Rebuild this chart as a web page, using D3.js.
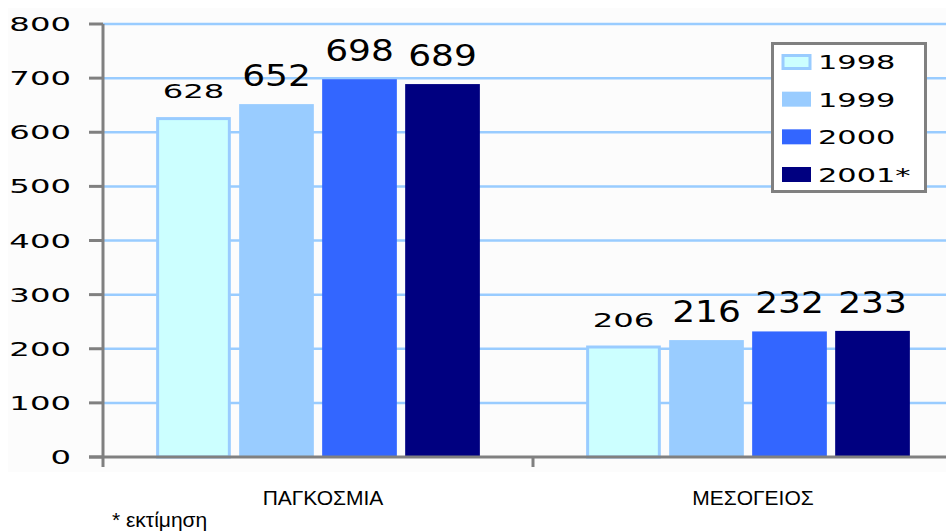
<!DOCTYPE html>
<html lang="el">
<head>
<meta charset="UTF-8">
<title>Chart</title>
<style>
    body { margin: 0; background: #ffffff; }
    svg { display: block; }
</style>
</head>
<body>
<div id="chart"></div>
<script src="https://d3js.org/d3.v7.min.js"></script>
<script>
// data
const categories = ['ΠΑΓΚΟΣΜΙΑ', 'ΜΕΣΟΓΕΙΟΣ'];
const years = ['1998', '1999', '2000', '2001*'];
const v1998 = [628, 206];
const v1999 = [652, 216];
const v2000 = [698, 232];
const v2001 = [689, 233];
const yTicks = [0, 100, 200, 300, 400, 500, 600, 700, 800];
const footnote = '* εκτίμηση';

const seriesValues = [v1998, v1999, v2000, v2001];
const colors = ['#ccffff', '#99ccff', '#3366ff', '#000080'];

const width = 946, height = 532;
const plot = { left: 103, right: 963, top: 24, bottom: 457 };

const svg = d3.select('#chart').append('svg')
    .attr('width', width)
    .attr('height', height);

// faint plot backdrop
svg.append('rect')
    .attr('x', 8).attr('y', 8)
    .attr('width', width - 8).attr('height', 464)
    .attr('fill', '#fcfcfc');

const y = d3.scaleLinear().domain([0, 800]).range([plot.bottom, plot.top]);
const x0 = d3.scaleBand().domain(categories).range([plot.left, plot.right]);
const x1 = d3.scaleBand().domain(years).range([0, x0.bandwidth()])
    .paddingInner(0.1).paddingOuter(0.64);

// stretched pixel-like digits
function wideText(parent, x, yy, txt, size, sx, anchor) {
    parent.append('g')
        .attr('transform', `translate(${x},${yy}) scale(${sx},1)`)
        .append('text')
        .attr('text-anchor', anchor)
        .attr('font-family', 'DejaVu Sans')
        .attr('font-size', size)
        .attr('fill', '#000')
        .text(txt);
}

// gridlines
svg.append('g').selectAll('line')
    .data(yTicks.filter(d => d > 0))
    .join('line')
    .attr('x1', plot.left).attr('x2', width)
    .attr('y1', d => y(d)).attr('y2', d => y(d))
    .attr('stroke', '#99ccff')
    .attr('stroke-width', 2.5);

// bars
const groups = svg.append('g').selectAll('g')
    .data(categories)
    .join('g')
    .attr('transform', d => `translate(${x0(d)},0)`);

groups.each(function(cat, ci) {
    const g = d3.select(this);
    years.forEach((yr, si) => {
        const val = seriesValues[si][ci];
        const bx = x1(yr), bw = x1.bandwidth();
        if (si === 0) {
            g.append('rect')
                .attr('x', bx + 1.5).attr('y', y(val) + 1.5)
                .attr('width', bw - 3).attr('height', y(0) - y(val) - 1.5)
                .attr('fill', colors[si])
                .attr('stroke', '#99ccff')
                .attr('stroke-width', 3);
        } else {
            g.append('rect')
                .attr('x', bx).attr('y', y(val))
                .attr('width', bw).attr('height', y(0) - y(val))
                .attr('fill', colors[si]);
        }
        const small = si === 0;
        wideText(g, bx + bw / 2, y(val) - (small ? 19 : 18), val,
            small ? 19 : 30, small ? 1.7 : 1.2, 'middle');
    });
});

// axes
const axisColor = '#808080';
svg.append('line')
    .attr('x1', plot.left).attr('x2', plot.left)
    .attr('y1', plot.top).attr('y2', plot.bottom + 10)
    .attr('stroke', axisColor).attr('stroke-width', 3);
svg.append('line')
    .attr('x1', 89).attr('x2', width)
    .attr('y1', plot.bottom).attr('y2', plot.bottom)
    .attr('stroke', axisColor).attr('stroke-width', 3);
svg.append('g').selectAll('line')
    .data(yTicks)
    .join('line')
    .attr('x1', 89).attr('x2', plot.left)
    .attr('y1', d => y(d)).attr('y2', d => y(d))
    .attr('stroke', axisColor).attr('stroke-width', 3);
svg.append('line')
    .attr('x1', x0(categories[1])).attr('x2', x0(categories[1]))
    .attr('y1', plot.bottom).attr('y2', plot.bottom + 10)
    .attr('stroke', axisColor).attr('stroke-width', 3);

// y tick labels
const yl = svg.append('g');
yTicks.forEach(t => wideText(yl, 71, y(t) + 7, t, 19, 1.7, 'end'));

// category labels
svg.append('g').selectAll('text')
    .data(categories)
    .join('text')
    .attr('x', d => x0(d) + x0.bandwidth() / 2 + 5)
    .attr('y', 505)
    .attr('text-anchor', 'middle')
    .attr('font-family', 'Liberation Sans, Arial, sans-serif')
    .attr('font-size', 21)
    .text(d => d);

// footnote
svg.append('text')
    .attr('x', 112).attr('y', 527)
    .attr('font-family', 'Liberation Sans, Arial, sans-serif')
    .attr('font-size', 21)
    .text(footnote);

// legend
const legend = svg.append('g');
legend.append('rect')
    .attr('x', 772.5).attr('y', 43.5)
    .attr('width', 153).attr('height', 148)
    .attr('fill', '#ffffff')
    .attr('stroke', axisColor).attr('stroke-width', 3);
const rowY = d3.scalePoint().domain(years).range([62, 175]);
years.forEach((yr, i) => {
    const cy = rowY(yr);
    if (i === 0) {
        legend.append('rect')
            .attr('x', 783).attr('y', cy - 6.5)
            .attr('width', 27).attr('height', 13)
            .attr('fill', colors[i])
            .attr('stroke', '#99ccff').attr('stroke-width', 3);
    } else {
        legend.append('rect')
            .attr('x', 782).attr('y', cy - 8)
            .attr('width', 29).attr('height', 15)
            .attr('fill', colors[i]);
    }
    wideText(legend, 818, cy + 7, yr, 19, 1.6, 'start');
});
</script>
</body>
</html>
